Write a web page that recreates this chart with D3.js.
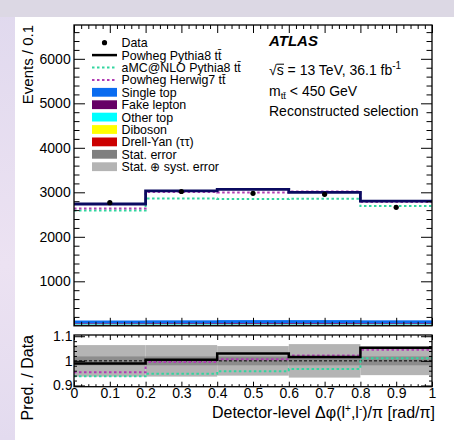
<!DOCTYPE html>
<html><head><meta charset="utf-8">
<script src="https://cdn.jsdelivr.net/npm/d3@7"></script>
<style>
html,body{margin:0;padding:0;background:#fff;}
svg{display:block;font-family:"Liberation Sans",Arial,Helvetica,sans-serif;}
</style></head>
<body>
<svg id="c" width="454" height="440"></svg>
<script>
// ---------- data ----------
const binEdges = [0, 0.2, 0.4, 0.6, 0.8, 1.0];
const xTickValues = [0, 0.1, 0.2, 0.3, 0.4, 0.5, 0.6, 0.7, 0.8, 0.9, 1];
const xTickLabels = ["0", "0.1", "0.2", "0.3", "0.4", "0.5", "0.6", "0.7", "0.8", "0.9", "1"];
const yTickValues = [1000, 2000, 3000, 4000, 5000, 6000];
const yTickLabels = ["1000", "2000", "3000", "4000", "5000", "6000"];
const rTickValues = [0.9, 1.0, 1.1];
const rTickLabels = ["0.9", "1", "1.1"];

const dataCounts    = [2766, 3018, 2977, 2955, 2663];
const powhegPythia8 = [2737, 3033, 3067, 3000, 2804];
const amcPythia8    = [2592, 2860, 2852, 2858, 2690];
const powhegHerwig7 = [2637, 3005, 2995, 3020, 2782];

const drellYan   = [22, 24, 25, 25, 24];
const diboson    = [3, 3, 3, 3, 3];
const otherTop   = [14, 14, 15, 15, 14];
const fakeLepton = [18, 18, 19, 19, 18];
const singleTop  = [62, 64, 66, 66, 64];

const statErr = [0.018, 0.018, 0.018, 0.018, 0.018];
const totErr  = [0.064, 0.064, 0.060, 0.068, 0.058];

// ---------- layout ----------
const W = 454, H = 440;
const L = 74, R = 432;
const mainTop = 25, mainBot = 325.8;
const ratTop = 335, ratBot = 386.7;
const font = '"Liberation Sans",Arial,Helvetica,sans-serif';

const svg = d3.select("#c");

// background (screenshot frame)
const defs = svg.append("defs");
const g1 = defs.append("linearGradient").attr("id","lg").attr("x1",0).attr("y1",0).attr("x2",0).attr("y2",1);
g1.append("stop").attr("offset","0%").attr("stop-color","#e0d9ee");
g1.append("stop").attr("offset","60%").attr("stop-color","#ece2f2");
g1.append("stop").attr("offset","100%").attr("stop-color","#e3dbef");
svg.append("rect").attr("width",W).attr("height",H).attr("fill","url(#lg)");
svg.append("rect").attr("x",0).attr("y",0).attr("width",W).attr("height",17).attr("fill","#dcd8e4");
svg.append("rect").attr("x",15).attr("y",17).attr("width",W-15).attr("height",H-17).attr("fill","#ffffff");

const x = d3.scaleLinear().domain([0,1]).range([L,R]);
const y = d3.scaleLinear().domain([0,6760]).range([mainBot,mainTop]);
const yr = d3.scaleLinear().domain([0.895,1.105]).range([ratBot,ratTop]);

const stepPts = (vals) => { const p = vals.map((v,i)=>[binEdges[i],v]); p.push([binEdges[binEdges.length-1], vals[vals.length-1]]); return p; };

// ---------- main panel ----------
const main = svg.append("g");
const bkgs = [
  {name:"Drell-Yan", vals:drellYan, color:"#cc0000"},
  {name:"Diboson", vals:diboson, color:"#ffff00"},
  {name:"Other top", vals:otherTop, color:"#00ffff"},
  {name:"Fake lepton", vals:fakeLepton, color:"#660066"},
  {name:"Single top", vals:singleTop, color:"#0a6cf0"}
];
const cum = binEdges.slice(0,-1).map(()=>0);
bkgs.forEach(b=>{
  b.vals.forEach((v,i)=>{
    main.append("rect")
      .attr("x", x(binEdges[i])).attr("width", x(binEdges[i+1])-x(binEdges[i]))
      .attr("y", y(cum[i]+v)).attr("height", y(cum[i])-y(cum[i]+v))
      .attr("fill", b.color);
    cum[i]+=v;
  });
});

const lineX = d3.line().x(d=>x(d[0])).curve(d3.curveStepAfter);
main.append("path").datum(stepPts(amcPythia8)).attr("d", lineX.y(d=>y(d[1])))
  .attr("fill","none").attr("stroke","#33d6a0").attr("stroke-width",2).attr("stroke-dasharray","2.5,2.5");
main.append("path").datum(stepPts(powhegHerwig7)).attr("d", lineX.y(d=>y(d[1])))
  .attr("fill","none").attr("stroke","#b23cb4").attr("stroke-width",2).attr("stroke-dasharray","2.5,2.5");
main.append("path").datum(stepPts(powhegPythia8)).attr("d", lineX.y(d=>y(d[1])))
  .attr("fill","none").attr("stroke","#0b0b60").attr("stroke-width",2.8);

dataCounts.forEach((v,i)=>{
  main.append("circle").attr("cx", x((binEdges[i]+binEdges[i+1])/2)).attr("cy", y(v)).attr("r",2.6).attr("fill","#000");
});

function addAxis(g, axis, tx, ty){ const a = g.append("g").attr("transform",`translate(${tx},${ty})`).call(axis); a.select(".domain").remove(); return a; }
const yMinor = d3.range(200, 6760, 200).filter(v=>v%1000!==0);
const xMinor = d3.range(0, 1.0001, 0.02).filter(v=>Math.abs(v*10-Math.round(v*10))>1e-6);

const ya = addAxis(main, d3.axisLeft(y).tickValues(yTickValues).tickFormat((d,i)=>yTickLabels[i]).tickSizeInner(-11).tickPadding(3.3), L, 0);
ya.selectAll("text").attr("font-size",14).attr("font-family",font).attr("fill","#000");
addAxis(main, d3.axisLeft(y).tickValues(yMinor).tickFormat("").tickSizeInner(-5.5), L, 0);
addAxis(main, d3.axisRight(y).tickValues(yTickValues).tickFormat("").tickSizeInner(-11), R, 0);
addAxis(main, d3.axisRight(y).tickValues(yMinor).tickFormat("").tickSizeInner(-5.5), R, 0);
addAxis(main, d3.axisBottom(x).tickValues(xTickValues).tickFormat("").tickSizeInner(-8), 0, mainBot);
addAxis(main, d3.axisBottom(x).tickValues(xMinor).tickFormat("").tickSizeInner(-4), 0, mainBot);
addAxis(main, d3.axisTop(x).tickValues(xTickValues).tickFormat("").tickSizeInner(-8), 0, mainTop);
addAxis(main, d3.axisTop(x).tickValues(xMinor).tickFormat("").tickSizeInner(-4), 0, mainTop);
main.selectAll(".tick line").attr("stroke","#000").attr("stroke-width",1);
main.append("rect").attr("x",L).attr("y",mainTop).attr("width",R-L).attr("height",mainBot-mainTop)
  .attr("fill","none").attr("stroke","#000").attr("stroke-width",1.3);

svg.append("text").attr("transform",`translate(32.5,${mainTop}) rotate(-90)`).attr("text-anchor","end")
  .attr("font-size",15).attr("font-family",font).text("Events / 0.1");

// ---------- legend ----------
const leg = svg.append("g");
const legItems = [
  {t:"Data", type:"dot"},
  {t:"Powheg Pythia8 tt̄", type:"line", color:"#000", dash:null, w:2.5},
  {t:"aMC@NLO Pythia8 tt̄", type:"line", color:"#33d6a0", dash:"2.5,2.5", w:2},
  {t:"Powheg Herwig7 tt̄", type:"line", color:"#b23cb4", dash:"2.5,2.5", w:2},
  {t:"Single top", type:"box", color:"#0a6cf0"},
  {t:"Fake lepton", type:"box", color:"#660066"},
  {t:"Other top", type:"box", color:"#00ffff"},
  {t:"Diboson", type:"box", color:"#ffff00"},
  {t:"Drell-Yan (ττ)", type:"box", color:"#cc0000"},
  {t:"Stat. error", type:"box", color:"#808080"},
  {t:"Stat. ⊕ syst. error", type:"box", color:"#b4b4b4"}
];
legItems.forEach((it,i)=>{
  const cy = 42.7 + i*12.4;
  if(it.type==="dot") leg.append("circle").attr("cx",104.5).attr("cy",cy).attr("r",2.6).attr("fill","#000");
  else if(it.type==="line") leg.append("line").attr("x1",92).attr("x2",117).attr("y1",cy).attr("y2",cy)
    .attr("stroke",it.color).attr("stroke-width",it.w).attr("stroke-dasharray",it.dash);
  else leg.append("rect").attr("x",92).attr("y",cy-4.4).attr("width",25).attr("height",8.8).attr("fill",it.color);
  leg.append("text").attr("x",121.5).attr("y",cy+4.4).attr("font-size",12.4).attr("font-family",font).text(it.t);
});

// ---------- labels ----------
svg.append("text").attr("x",269).attr("y",46).attr("font-size",15).attr("font-weight","bold").attr("font-style","italic")
  .attr("font-family",font).text("ATLAS");
const t2 = svg.append("text").attr("x",269).attr("y",75).attr("font-size",14).attr("font-family",font);
t2.append("tspan").text("√s = 13 TeV, 36.1 fb");
t2.append("tspan").attr("dy",-6).attr("font-size",10).text("-1");
svg.append("line").attr("x1",276.5).attr("x2",284).attr("y1",64.2).attr("y2",64.2).attr("stroke","#000").attr("stroke-width",1);
const t3 = svg.append("text").attr("x",269).attr("y",95.5).attr("font-size",14).attr("font-family",font);
t3.append("tspan").text("m");
t3.append("tspan").attr("dy",3.5).attr("font-size",9.5).text("tt̄");
t3.append("tspan").attr("dy",-3.5).text(" < 450 GeV");
svg.append("text").attr("x",269).attr("y",115.5).attr("font-size",14).attr("font-family",font).text("Reconstructed selection");

// ---------- ratio panel ----------
const rat = svg.append("g");
totErr.forEach((e,i)=>{
  rat.append("rect").attr("x",x(binEdges[i])).attr("width",x(binEdges[i+1])-x(binEdges[i]))
    .attr("y",yr(1+e)).attr("height",yr(1-e)-yr(1+e)).attr("fill","#b4b4b4");
});
statErr.forEach((e,i)=>{
  rat.append("rect").attr("x",x(binEdges[i])).attr("width",x(binEdges[i+1])-x(binEdges[i]))
    .attr("y",yr(1+e)).attr("height",yr(1-e)-yr(1+e)).attr("fill","#8c8c8c");
});
rat.append("line").attr("x1",L).attr("x2",R).attr("y1",yr(1)).attr("y2",yr(1))
  .attr("stroke","#000").attr("stroke-width",1).attr("stroke-dasharray","3,2");
const ratio = (m)=> m.map((v,i)=>v/dataCounts[i]);
const lineR = d3.line().x(d=>x(d[0])).y(d=>yr(d[1])).curve(d3.curveStepAfter);
rat.append("path").datum(stepPts(ratio(amcPythia8))).attr("d",lineR)
  .attr("fill","none").attr("stroke","#33d6a0").attr("stroke-width",2).attr("stroke-dasharray","2.5,2.5");
rat.append("path").datum(stepPts(ratio(powhegHerwig7))).attr("d",lineR)
  .attr("fill","none").attr("stroke","#b23cb4").attr("stroke-width",2).attr("stroke-dasharray","2.5,2.5");
rat.append("path").datum(stepPts(ratio(powhegPythia8))).attr("d",lineR)
  .attr("fill","none").attr("stroke","#000").attr("stroke-width",2.5);

const rMinor = d3.range(0.9, 1.105, 0.02).map(v=>+v.toFixed(2)).filter(v=>![0.9,1,1.1].includes(v));
const ra = addAxis(rat, d3.axisLeft(yr).tickValues(rTickValues).tickFormat((d,i)=>rTickLabels[i]).tickSizeInner(-11).tickPadding(1.5), L, 0);
ra.selectAll("text").attr("font-size",14).attr("font-family",font).attr("fill","#000");
addAxis(rat, d3.axisLeft(yr).tickValues(rMinor).tickFormat("").tickSizeInner(-3), L, 0);
addAxis(rat, d3.axisRight(yr).tickValues(rTickValues).tickFormat("").tickSizeInner(-11), R, 0);
addAxis(rat, d3.axisRight(yr).tickValues(rMinor).tickFormat("").tickSizeInner(-3), R, 0);
const rxa = addAxis(rat, d3.axisBottom(x).tickValues(xTickValues).tickFormat((d,i)=>xTickLabels[i]).tickSizeInner(-5).tickPadding(1.5), 0, ratBot);
rxa.selectAll("text").attr("font-size",14).attr("font-family",font).attr("fill","#000");
addAxis(rat, d3.axisBottom(x).tickValues(xMinor).tickFormat("").tickSizeInner(-2.5), 0, ratBot);
addAxis(rat, d3.axisTop(x).tickValues(xTickValues).tickFormat("").tickSizeInner(-5), 0, ratTop);
addAxis(rat, d3.axisTop(x).tickValues(xMinor).tickFormat("").tickSizeInner(-2.5), 0, ratTop);
rat.selectAll(".tick line").attr("stroke","#000").attr("stroke-width",1);
rat.append("rect").attr("x",L).attr("y",ratTop).attr("width",R-L).attr("height",ratBot-ratTop)
  .attr("fill","none").attr("stroke","#000").attr("stroke-width",1.3);

svg.append("text").attr("transform",`translate(32.5,${ratTop}) rotate(-90)`).attr("text-anchor","end")
  .attr("font-size",16).attr("font-family",font).text("Pred. / Data");

const xt = svg.append("text").attr("x",435).attr("y",418).attr("text-anchor","end").attr("font-size",16).attr("font-family",font);
xt.append("tspan").text("Detector-level Δφ(l");
xt.append("tspan").attr("dy",-6).attr("font-size",10).text("+");
xt.append("tspan").attr("dy",6).text(",l");
xt.append("tspan").attr("dy",-6).attr("font-size",10).text("-");
xt.append("tspan").attr("dy",6).text(")/π [rad/π]");
</script>
</body></html>
